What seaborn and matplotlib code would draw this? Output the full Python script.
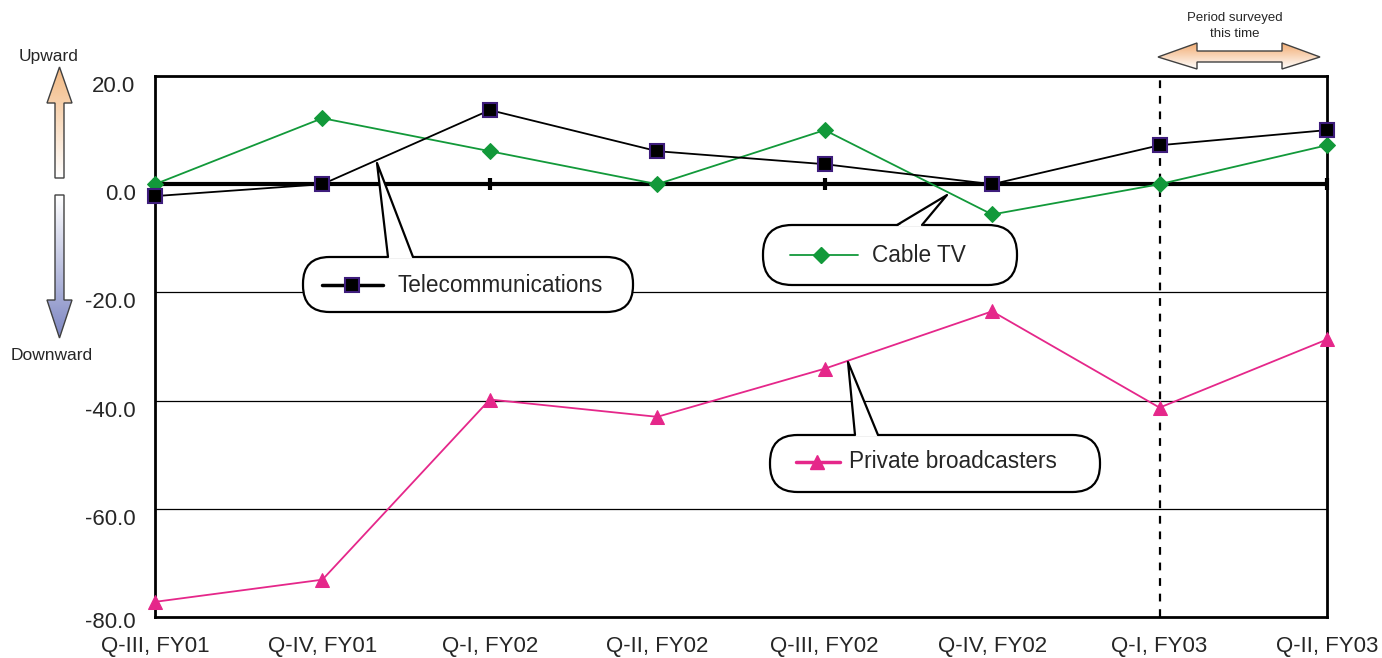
import numpy as np
import pandas as pd
import matplotlib
matplotlib.use('Agg')
import matplotlib.pyplot as plt
import matplotlib.transforms as mtransforms
from matplotlib.patches import Polygon, FancyBboxPatch
from matplotlib.lines import Line2D
from matplotlib.colors import to_rgba
import seaborn as sns

# --- data ---
quarters = ['Q-III, FY01', 'Q-IV, FY01', 'Q-I, FY02', 'Q-II, FY02',
            'Q-III, FY02', 'Q-IV, FY02', 'Q-I, FY03', 'Q-II, FY03']
telecom = [-2.2, 0.0, 13.7, 6.1, 3.7, 0.0, 7.2, 10.0]
cable_tv = [0.0, 12.2, 6.1, 0.0, 10.0, -5.6, 0.0, 7.2]
private_bc = [-77.2, -73.1, -39.8, -43.0, -34.1, -23.5, -41.3, -28.7]
y_ticks = [20, 0, -20, -40, -60, -80]
survey_start = 'Q-I, FY03'

W, H = 1382, 658
sns.set_style('white')
plt.rcParams['font.family'] = ['Liberation Sans', 'DejaVu Sans']

fig = plt.figure(figsize=(W / 100, H / 100), dpi=100)
ax = fig.add_axes([155 / W, 1 - 617 / H, (1327 - 155) / W, (617 - 76) / H])

pos = np.arange(len(quarters))
df = pd.DataFrame({'pos': pos, 'Telecommunications': telecom,
                   'Cable TV': cable_tv, 'Private broadcasters': private_bc})

# grid + zero axis
for v in y_ticks[2:-1]:
    ax.axhline(v, color='black', lw=0.9, zorder=1)
ax.axhline(0, color='black', lw=3, zorder=2)
ax.plot(pos, np.zeros(len(pos)), linestyle='none', marker='|', markersize=9,
        mew=3, color='black', zorder=2, clip_on=False)

# period surveyed dashed line
ax.axvline(quarters.index(survey_start), color='black', lw=1.6,
           linestyle=(0, (3.5, 3.5)), zorder=2)

green = '#12993a'
pink = '#e5278a'
purple = '#3e1d7c'

sns.lineplot(data=df, x='pos', y='Cable TV', ax=ax, color=green, lw=1.3,
             marker='D', markersize=8, markeredgecolor=green, zorder=4, clip_on=False)
sns.lineplot(data=df, x='pos', y='Telecommunications', ax=ax, color='black', lw=1.3,
             marker='s', markersize=10, markerfacecolor='black',
             markeredgecolor=purple, markeredgewidth=1.5, zorder=5, clip_on=False)
sns.lineplot(data=df, x='pos', y='Private broadcasters', ax=ax, color=pink, lw=1.3,
             marker='^', markersize=10, markeredgecolor=pink, zorder=4, clip_on=False)

ax.set_xlim(0, len(quarters) - 1)
ax.set_ylim(-80, 20)
ax.set_xticks(pos)
ax.set_xticklabels(quarters, fontsize=16)
ax.set_yticks(y_ticks)
ax.set_yticklabels([f'{v:.1f}' for v in y_ticks], fontsize=16)
ax.tick_params(axis='x', length=0, pad=14)
ax.tick_params(axis='y', length=0, pad=14)
ax.set_xlabel('')
ax.set_ylabel('')
for s in ax.spines.values():
    s.set_linewidth(2)
    s.set_color('black')

# excel-style labels sit a little below their gridline
for lab in ax.get_yticklabels():
    dy = -0.03 if lab.get_text() == f'{y_ticks[-1]:.1f}' else -0.08
    shift = mtransforms.ScaledTranslation(0, dy, fig.dpi_scale_trans)
    lab.set_transform(lab.get_transform() + shift)

# --- overlay in pixel coordinates for annotations ---
ov = fig.add_axes([0, 0, 1, 1], zorder=10)
ov.set_xlim(0, W)
ov.set_ylim(H, 0)
ov.axis('off')


def gradient_poly(verts, c_start, c_end):
    verts = np.array(verts, dtype=float)
    patch = Polygon(verts, closed=True, facecolor='none', edgecolor='#404040', lw=1.0, zorder=3)
    ov.add_patch(patch)
    x0, x1 = verts[:, 0].min(), verts[:, 0].max()
    y0, y1 = verts[:, 1].min(), verts[:, 1].max()
    t = np.linspace(0, 1, 200)
    a, b = np.array(to_rgba(c_start)), np.array(to_rgba(c_end))
    cols = a[None, :] * (1 - t[:, None]) + b[None, :] * t[:, None]
    img = cols[:, None, :]
    im = ov.imshow(img, extent=(x0, x1, y1, y0), origin='upper', aspect='auto',
                   interpolation='bilinear', zorder=2)
    im.set_clip_path(patch)


# left up / down arrows
gradient_poly([(59.5, 67), (72, 103), (64, 103), (64, 178), (55, 178), (55, 103), (47, 103)],
              '#f3b982', '#ffffff')
gradient_poly([(55, 195), (64, 195), (64, 300), (72, 300), (59.5, 338), (47, 300), (55, 300)],
              '#ffffff', '#7d86c2')
ov.text(49, 57, 'Upward', ha='center', va='center', fontsize=12.5)
ov.text(52, 355, 'Downward', ha='center', va='center', fontsize=12.5)

# period surveyed double arrow
gradient_poly([(1158, 57), (1197, 43), (1197, 51), (1282, 51), (1282, 43), (1320, 57),
               (1282, 69), (1282, 62), (1197, 62), (1197, 69)],
              '#f2ac72', '#ffffff')
ov.text(1235, 18, 'Period surveyed', ha='center', va='center', fontsize=9.5)
ov.text(1235, 34, 'this time', ha='center', va='center', fontsize=9.5)


def callout(x0, x1, y0, y1, tail_l, tail_r, apex):
    h = y1 - y0
    box = FancyBboxPatch((x0, y0), x1 - x0, h,
                         boxstyle=f'round,pad=0,rounding_size={h / 2 - 1}',
                         facecolor='white', edgecolor='black', lw=1.6, zorder=5)
    ov.add_patch(box)
    tri = Polygon([(tail_l, y0 + 1.5), apex, (tail_r, y0 + 1.5)], closed=True,
                  facecolor='white', edgecolor='none', zorder=6)
    ov.add_patch(tri)
    ov.add_line(Line2D([tail_l, apex[0], tail_r], [y0, apex[1], y0],
                       color='black', lw=1.6, zorder=7))


def legend_sample(xa, xb, xm, y, color, marker, ms, mfc, mec, mew, text, tx, lw):
    ov.add_line(Line2D([xa, xb], [y, y], color=color, lw=lw, zorder=8))
    ov.add_line(Line2D([xm], [y], marker=marker, markersize=ms, markerfacecolor=mfc,
                       markeredgecolor=mec, markeredgewidth=mew, linestyle='none', zorder=9))
    ov.text(tx, y, text, ha='left', va='center', fontsize=16.3, zorder=9)


callout(303, 633, 257, 312, 388, 413, (377, 163))
legend_sample(322, 383, 352, 285, 'black', 's', 10, 'black', purple, 1.5,
              'Telecommunications', 398, 2.5)

callout(763, 1017, 225, 285, 897, 922, (947, 195))
legend_sample(790, 858, 821, 255, green, 'D', 8, green, green, 1, 'Cable TV', 872, 1.3)

callout(770, 1100, 435, 492, 855, 878, (848, 362))
legend_sample(796, 840, 817, 462, pink, '^', 10, pink, pink, 1, 'Private broadcasters', 849, 2.5)

fig.savefig('out.png', dpi=100)
